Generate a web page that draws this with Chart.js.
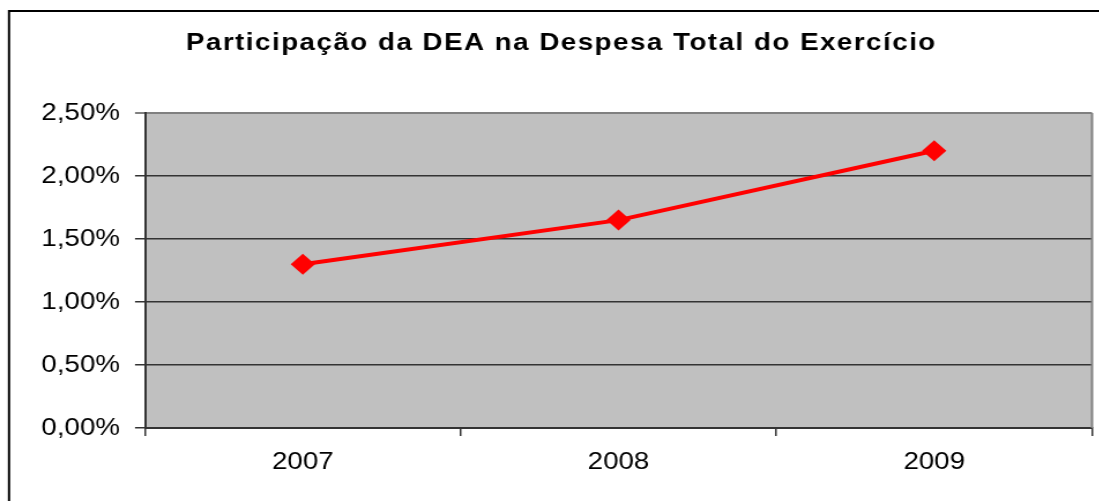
<!DOCTYPE html>
<html>
<head>
<meta charset="utf-8">
<script src="https://cdn.jsdelivr.net/npm/chart.js@4"></script>
<style>
  html, body { margin: 0; padding: 0; background: #fff; overflow: hidden; }
  /* a imagem original está esticada na horizontal */
  #wrap { width: 952px; height: 501px; transform: scaleX(1.155); transform-origin: 0 0; }
</style>
</head>
<body>
<div id="wrap"><canvas id="deaChart"></canvas></div>
<script>
// Dados do gráfico
const anos = ['2007', '2008', '2009'];
const participacao = [1.30, 1.65, 2.20]; // % da despesa total
const rotulosY = ['0,00%', '0,50%', '1,00%', '1,50%', '2,00%', '2,50%'];
const titulo = 'Participação da DEA na Despesa Total do Exercício';

// Moldura externa, fundo da área de plotagem e título
const molduraPlugin = {
  id: 'moldura',
  beforeDraw(chart) {
    const { ctx, chartArea: a } = chart;
    ctx.save();
    ctx.fillStyle = '#C0C0C0';
    ctx.fillRect(a.left, a.top, a.right - a.left, a.bottom - a.top);
    ctx.strokeStyle = '#000';
    ctx.lineWidth = 2;
    ctx.beginPath();
    ctx.moveTo(7.8, 600);
    ctx.lineTo(7.8, 11);
    ctx.lineTo(1200, 11);
    ctx.stroke();
    ctx.fillStyle = '#000';
    ctx.font = 'bold 24px "Liberation Sans", Arial, sans-serif';
    ctx.letterSpacing = '1.3px';
    ctx.textAlign = 'center';
    ctx.textBaseline = 'alphabetic';
    ctx.fillText(titulo, 486, 50);
    ctx.restore();
  },
  afterDraw(chart) {
    const { ctx, chartArea: a } = chart;
    ctx.save();
    ctx.strokeStyle = '#808080';
    ctx.lineWidth = 2;
    ctx.beginPath();
    ctx.moveTo(a.right, a.top);
    ctx.lineTo(a.right, a.bottom);
    ctx.stroke();
    ctx.restore();
  }
};

const ctx = document.getElementById('deaChart').getContext('2d');
const deaChart = new Chart(ctx, {
  type: 'line',
  data: {
    labels: anos,
    datasets: [
      {
        label: 'Participação',
        data: participacao,
        borderColor: '#FF0000',
        backgroundColor: '#FF0000',
        borderWidth: 4,
        pointStyle: 'rectRot',
        pointRadius: 10.5,
        pointBorderWidth: 0,
        tension: 0,
      },
    ],
  },
  options: {
    responsive: true,
    maintainAspectRatio: false,
    animation: false,
    layout: { autoPadding: false, padding: { top: 113, right: 6.5, left: 0, bottom: 0 } },
    plugins: {
      legend: { display: false },
      title: { display: false },
      tooltip: { enabled: false },
    },
    scales: {
      x: {
        offset: true,
        grid: {
          offset: true,
          drawOnChartArea: false,
          tickLength: 8,
          color: '#333',
          lineWidth: 1.5,
        },
        border: { color: '#333', width: 2 },
        ticks: {
          color: '#000',
          padding: 12,
          font: { family: '"Liberation Sans", Arial, sans-serif', size: 24 },
        },
        afterFit(scale) { scale.height = 73; },
      },
      y: {
        min: 0,
        max: 2.5,
        grid: {
          tickLength: 8.6,
          color: (c) => (c.tick && c.tick.value === 2.5 ? '#808080' : '#333'),
          lineWidth: (c) => (c.tick && c.tick.value === 2.5 ? 2 : 1.5),
        },
        border: { color: '#333', width: 2 },
        ticks: {
          stepSize: 0.5,
          color: '#000',
          padding: 13,
          font: { family: '"Liberation Sans", Arial, sans-serif', size: 24 },
          callback: (v, i) => rotulosY[i],
        },
        afterFit(scale) { scale.width = 125.5; },
      },
    },
  },
  plugins: [molduraPlugin],
});
</script>
</body>
</html>
